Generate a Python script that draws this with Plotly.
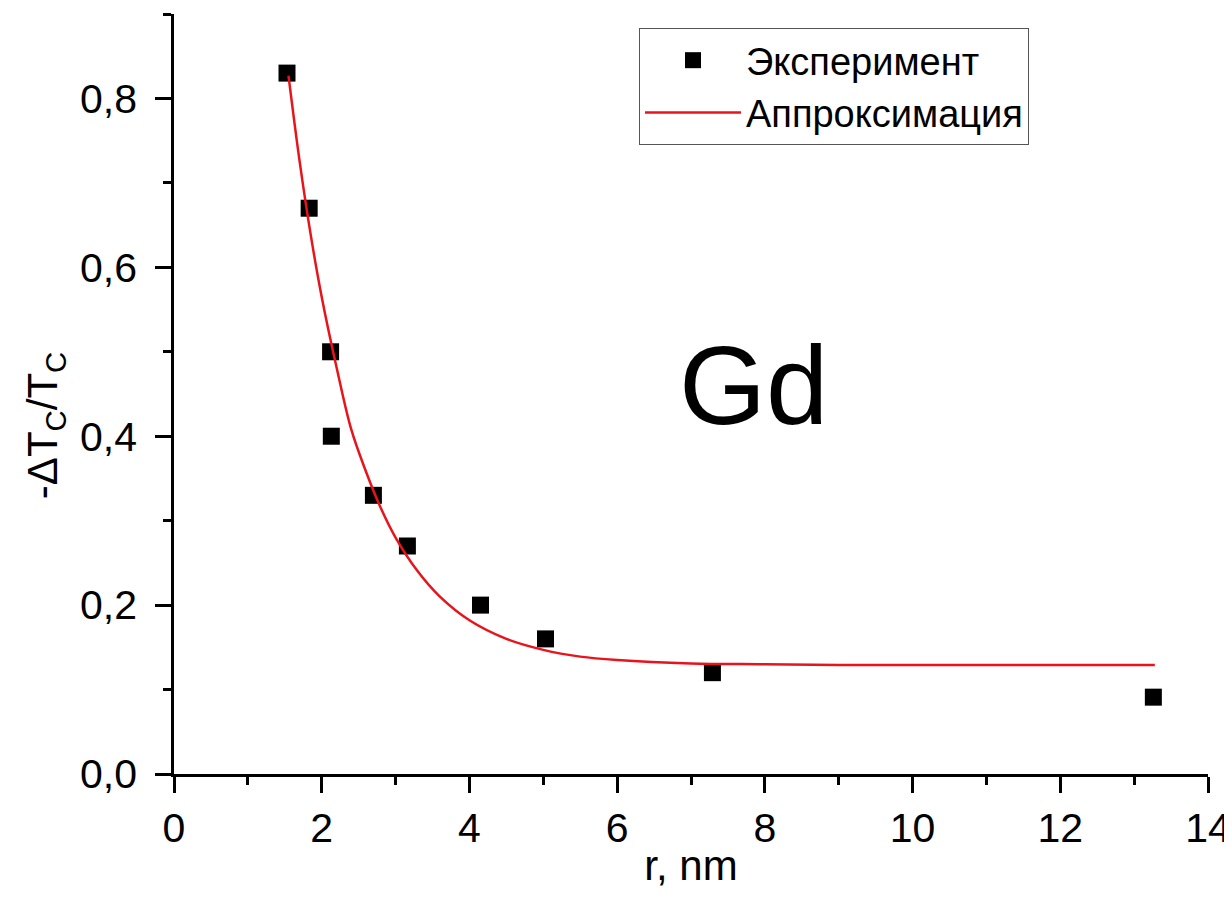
import plotly.graph_objects as go

r_exp = [1.53, 1.83, 2.12, 2.13, 2.70, 3.16, 4.15, 5.03, 7.29, 13.26]
dt_exp = [0.83, 0.67, 0.50, 0.40, 0.33, 0.27, 0.20, 0.16, 0.12, 0.091]

# approximation curve
r_fit = [1.55, 1.70, 1.85, 2.00, 2.20, 2.40, 2.60, 2.80, 3.00, 3.30, 3.60,
         4.00, 4.50, 5.00, 5.50, 6.00, 7.00, 8.00, 9.00, 11.0, 13.28]
dt_fit = [0.827, 0.726, 0.639, 0.565, 0.482, 0.408, 0.358, 0.315, 0.280, 0.240, 0.210,
          0.182, 0.160, 0.147, 0.139, 0.135, 0.131, 0.130, 0.129, 0.129, 0.129]

x_ticks = [0, 2, 4, 6, 8, 10, 12, 14]
y_ticks = [0.0, 0.2, 0.4, 0.6, 0.8]

fnt = "Liberation Sans, Arial, sans-serif"

fig = go.Figure()
fig.add_trace(go.Scatter(
    x=r_exp, y=dt_exp,
    name="Эксперимент",
    mode="markers",
    marker=dict(symbol="square", size=17, color="black")
))
fig.add_trace(go.Scatter(
    x=r_fit, y=dt_fit,
    name="Аппроксимация",
    mode="lines",
    line=dict(color="#e8141c", width=2.5, shape="spline")
))

fig.add_annotation(x=7.85, y=0.46, text="Gd", showarrow=False,
                   font=dict(family=fnt, size=112, color="black"))

# y axis title as a rotated annotation so it can sit closer to the edge
fig.add_annotation(x=0, y=0.459, xref="paper", yref="paper", xshift=-129,
                   xanchor="center", yanchor="middle",
                   text="-ΔT<sub>C</sub>/T<sub>C</sub>", textangle=-90, showarrow=False,
                   font=dict(family=fnt, size=42, color="black"))

# the page body adds 8px round the figure, so the figure is drawn smaller
fig.update_layout(
    width=1224, height=881,
    margin=dict(l=166, r=24, t=6, b=115),
    paper_bgcolor="white",
    plot_bgcolor="white",
    separators=", ",
    font=dict(family=fnt, color="black"),
    legend=dict(
        x=0.4497, y=0.9816, xanchor="left", yanchor="top",
        bordercolor="#555555", borderwidth=1,
        font=dict(family=fnt, size=38, color="black"),
        itemwidth=96,
        tracegroupgap=0
    )
)

fig.update_xaxes(
    range=[0, 14], tickvals=x_ticks, automargin=False, ticklabeloverflow="allow",
    showline=True, linecolor="black", linewidth=2.5,
    ticks="outside", ticklen=16, tickwidth=2.5, tickcolor="black",
    minor=dict(ticks="outside", ticklen=8, tickwidth=2.5, tickcolor="black", dtick=1),
    showgrid=False, zeroline=False,
    tickfont=dict(family=fnt, size=41, color="black"),
    title=dict(text="r, nm", font=dict(family=fnt, size=42, color="black"), standoff=8)
)
fig.update_yaxes(
    range=[0, 0.9], tickvals=y_ticks, tickformat=".1f", automargin=False,
    showline=True, linecolor="black", linewidth=2.5,
    ticks="outside", ticklen=16, tickwidth=2.5, tickcolor="black",
    minor=dict(ticks="outside", ticklen=8, tickwidth=2.5, tickcolor="black", dtick=0.1),
    showgrid=False, zeroline=False,
    tickfont=dict(family=fnt, size=41, color="black"),
    ticklabelstandoff=10
)

fig.write_html("out.html")
